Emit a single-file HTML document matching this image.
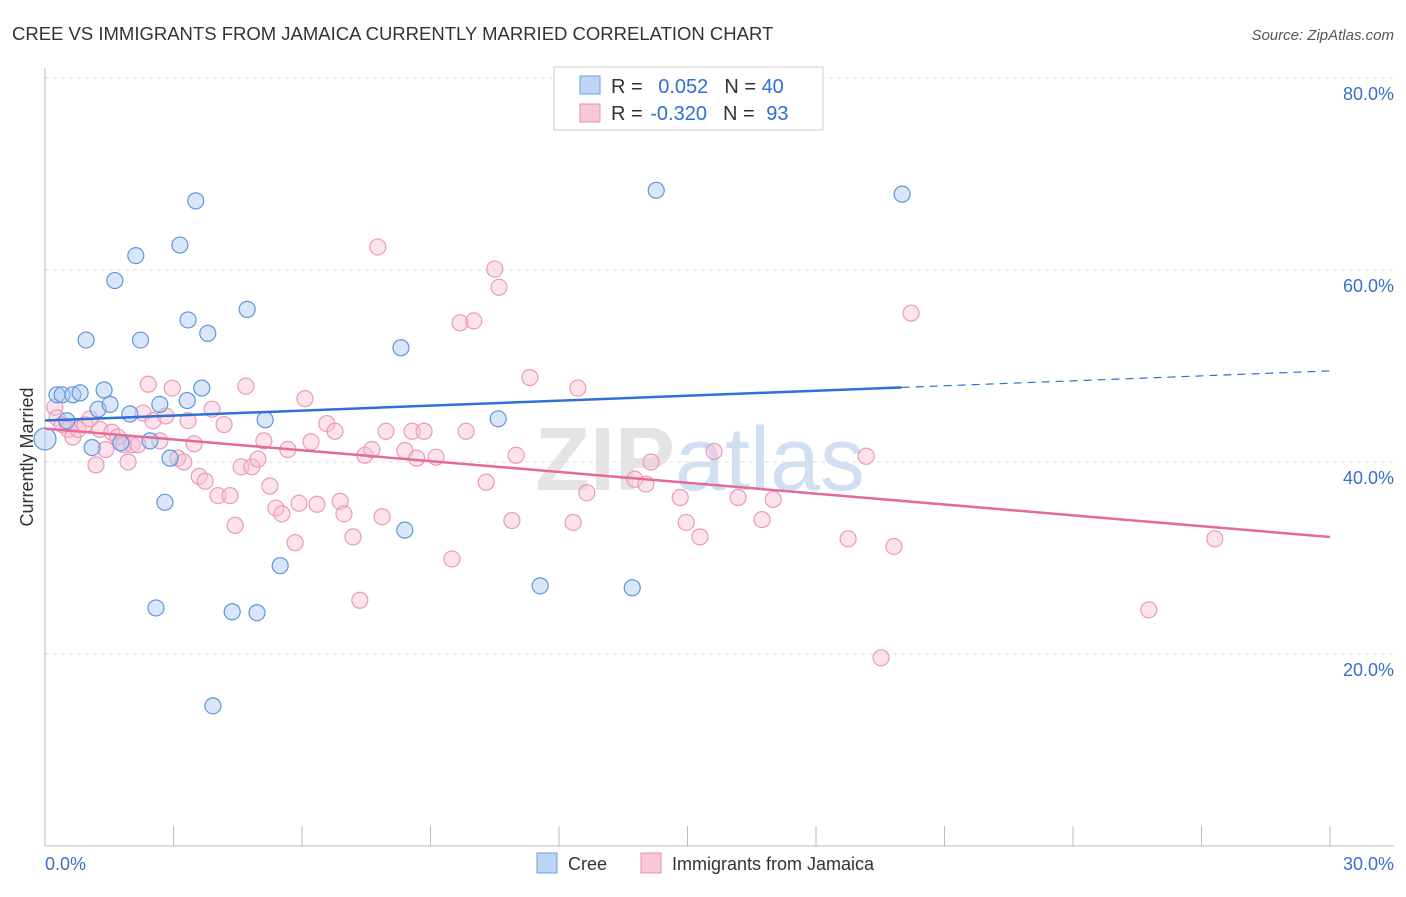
<!DOCTYPE html>
<html><head><meta charset="utf-8"><style>
body{margin:0;background:#fff;font-family:"Liberation Sans",sans-serif}
svg text{font-family:"Liberation Sans",sans-serif}
</style></head><body>
<svg id="c" width="1406" height="892" viewBox="0 0 1406 892">
<text x="12" y="40" font-size="18.5" fill="#333">CREE VS IMMIGRANTS FROM JAMAICA CURRENTLY MARRIED CORRELATION CHART</text>
<text x="1394" y="40" font-size="15" fill="#555" font-style="italic" text-anchor="end">Source: ZipAtlas.com</text>
<text x="700" y="490" font-size="90" fill="#e4e4e4" text-anchor="middle" font-weight="bold">ZIP<tspan fill="#d0dff2" font-weight="normal">atlas</tspan></text>
<g id="grid"></g><g id="axes"></g><g id="marks"></g>
<text transform="translate(33,457) rotate(-90)" font-size="18" fill="#333" text-anchor="middle">Currently Married</text>
<text x="45" y="870" font-size="18" fill="#3a6fd0">0.0%</text>
<text x="1394" y="870" font-size="18" fill="#3a6fd0" text-anchor="end">30.0%</text>
<g>
<rect x="554" y="67" width="269" height="63" fill="#fff" stroke="#ccc"/>
<rect x="580" y="76" width="20" height="18" fill="#bcd4f5" stroke="#6d9ee0"/>
<rect x="580" y="104" width="20" height="18" fill="#f9c8d8" stroke="#e890ae"/>
<text x="611" y="93" font-size="20" fill="#333">R = <tspan fill="#2f6fd6" dx="10">0.052</tspan><tspan dx="16">N = </tspan><tspan fill="#2f6fd6">40</tspan></text>
<text x="611" y="120" font-size="20" fill="#333">R = <tspan fill="#2f6fd6" dx="2">-0.320</tspan><tspan dx="16">N = </tspan><tspan fill="#2f6fd6" dx="6">93</tspan></text>
</g>
<g>
<rect x="537" y="853" width="20" height="20" fill="#bcd4f5" stroke="#6d9ee0"/>
<text x="568" y="870" font-size="18" fill="#333">Cree</text>
<rect x="641" y="853" width="20" height="20" fill="#f9c8d8" stroke="#e890ae"/>
<text x="672" y="870" font-size="18" fill="#333">Immigrants from Jamaica</text>
</g>
</svg>
<script>
const yTicks=[20,40,60,80];
const xTicks=[0,3,6,9,12,15,18,21,24,27,30];
const creeX=[0,0.28,0.4,0.51,0.65,0.82,0.96,1.1,1.24,1.38,1.52,1.63,1.77,1.98,2.12,2.23,2.45,2.59,2.68,2.8,2.92,3.15,3.32,3.34,3.52,3.66,3.8,3.92,4.37,4.72,4.95,5.14,5.49,8.31,8.4,10.58,11.56,13.71,14.27,20.01];
const creeY=[42.4,47,47,44.3,47,47.2,52.7,41.5,45.5,47.5,46,58.9,42,45,61.5,52.7,42.2,24.8,46,35.8,40.4,62.6,46.4,54.8,67.2,47.7,53.4,14.6,24.4,55.9,24.3,44.4,29.2,51.9,32.9,44.5,27.1,26.9,68.3,67.9];
const jamX=[0.23,0.28,0.4,0.54,0.65,0.77,0.93,1.05,1.19,1.28,1.42,1.56,1.7,1.84,1.94,2.03,2.17,2.29,2.41,2.52,2.68,2.82,2.97,3.1,3.24,3.34,3.48,3.6,3.74,3.9,4.04,4.18,4.32,4.44,4.58,4.69,4.83,4.97,5.11,5.25,5.39,5.53,5.67,5.84,5.93,6.07,6.21,6.35,6.58,6.77,6.89,6.98,7.19,7.35,7.47,7.63,7.77,7.87,7.96,8.4,8.57,8.68,8.85,9.13,9.5,9.69,9.83,10.01,10.3,10.5,10.6,10.9,11.0,11.32,12.33,12.44,12.65,13.77,14.03,14.15,14.83,14.97,15.29,15.62,16.18,16.74,17.0,18.75,19.17,19.52,19.82,20.22,25.77,27.31];
const jamY=[45.7,44.6,43.9,43.4,42.6,43.4,43.9,44.5,39.7,43.4,41.3,43.1,42.6,41.8,40,41.8,41.8,45.1,48.1,44.3,42.2,44.8,47.7,40.4,40,44.3,41.9,38.5,38,45.5,36.5,43.9,36.5,33.4,39.5,47.9,39.5,40.3,42.2,37.5,35.2,34.6,41.3,31.6,35.7,46.6,42.1,35.6,44,43.2,35.9,34.6,32.2,25.6,40.7,41.3,62.4,34.3,43.2,41.2,43.2,40.4,43.2,40.5,29.9,54.5,43.2,54.7,37.9,60.1,58.2,33.9,40.7,48.8,33.7,47.7,36.8,38.2,37.7,40,36.3,33.7,32.2,41.1,36.3,34,36.1,32,40.6,19.6,31.2,55.5,24.6,32]; 
const cx=v=>45+v/30*1285, cy=v=>846-v*9.6;
const NS='http://www.w3.org/2000/svg';
function mk(t,a,p){const e=document.createElementNS(NS,t);for(const k in a)e.setAttribute(k,a[k]);document.getElementById(p).appendChild(e);return e;}
yTicks.forEach(t=>{
 const l=mk('line',{x1:45,x2:1394,y1:cy(t),y2:cy(t),stroke:'#ddd','stroke-dasharray':'4,4'},'grid');
 
 
 const tx=mk('text',{x:1394,y:cy(t)+22,'font-size':18,fill:'#3a6fd0','text-anchor':'end'},'grid');
 tx.textContent=t.toFixed(1)+'%';
 
 
});
let a=mk('line',{x1:45,x2:45,y1:68,y2:846,stroke:'#bbb'},'axes');


a=mk('line',{x1:45,x2:1394,y1:846,y2:846,stroke:'#bbb'},'axes');


xTicks.forEach(t=>{const l=mk('line',{x1:cx(t),x2:cx(t),y1:826,y2:846,stroke:'#bbb'},'axes');
 
 });
function dots(X,Y,fill,stroke,name){X.forEach((x,i)=>{const c=mk('circle',{cx:cx(x),cy:cy(Y[i]),r:(i==0&&name=='cree-point')?11:8,fill:fill,stroke:stroke,'stroke-width':1.2},'marks');
 
 });}
dots(jamX,jamY,'rgba(248,190,210,0.45)','#eb9ab8','jamaica-point');
dots(creeX,creeY,'rgba(170,200,240,0.45)','#5f95dc','cree-point');
function fit(X,Y){const n=X.length;let mx=0,my=0;X.forEach((x,i)=>{mx+=x;my+=Y[i]});mx/=n;my/=n;let sxy=0,sxx=0;X.forEach((x,i)=>{sxy+=(x-mx)*(Y[i]-my);sxx+=(x-mx)**2});const b=sxy/sxx;return [my-b*mx,b];}
let [ca,cb]=fit(creeX,creeY);
let t=mk('line',{x1:cx(0),y1:cy(ca),x2:cx(20),y2:cy(ca+cb*20),stroke:'#2f6fd6','stroke-width':2.5},'marks');


t=mk('line',{x1:cx(20),y1:cy(ca+cb*20),x2:cx(30),y2:cy(ca+cb*30),stroke:'#2f6fd6','stroke-width':1.2,'stroke-dasharray':'8,6'},'marks');


let [ja,jb]=fit(jamX,jamY);
t=mk('line',{x1:cx(0),y1:cy(ja),x2:cx(30),y2:cy(ja+jb*30),stroke:'#e46a97','stroke-width':2.5},'marks');


</script>
</body></html>
